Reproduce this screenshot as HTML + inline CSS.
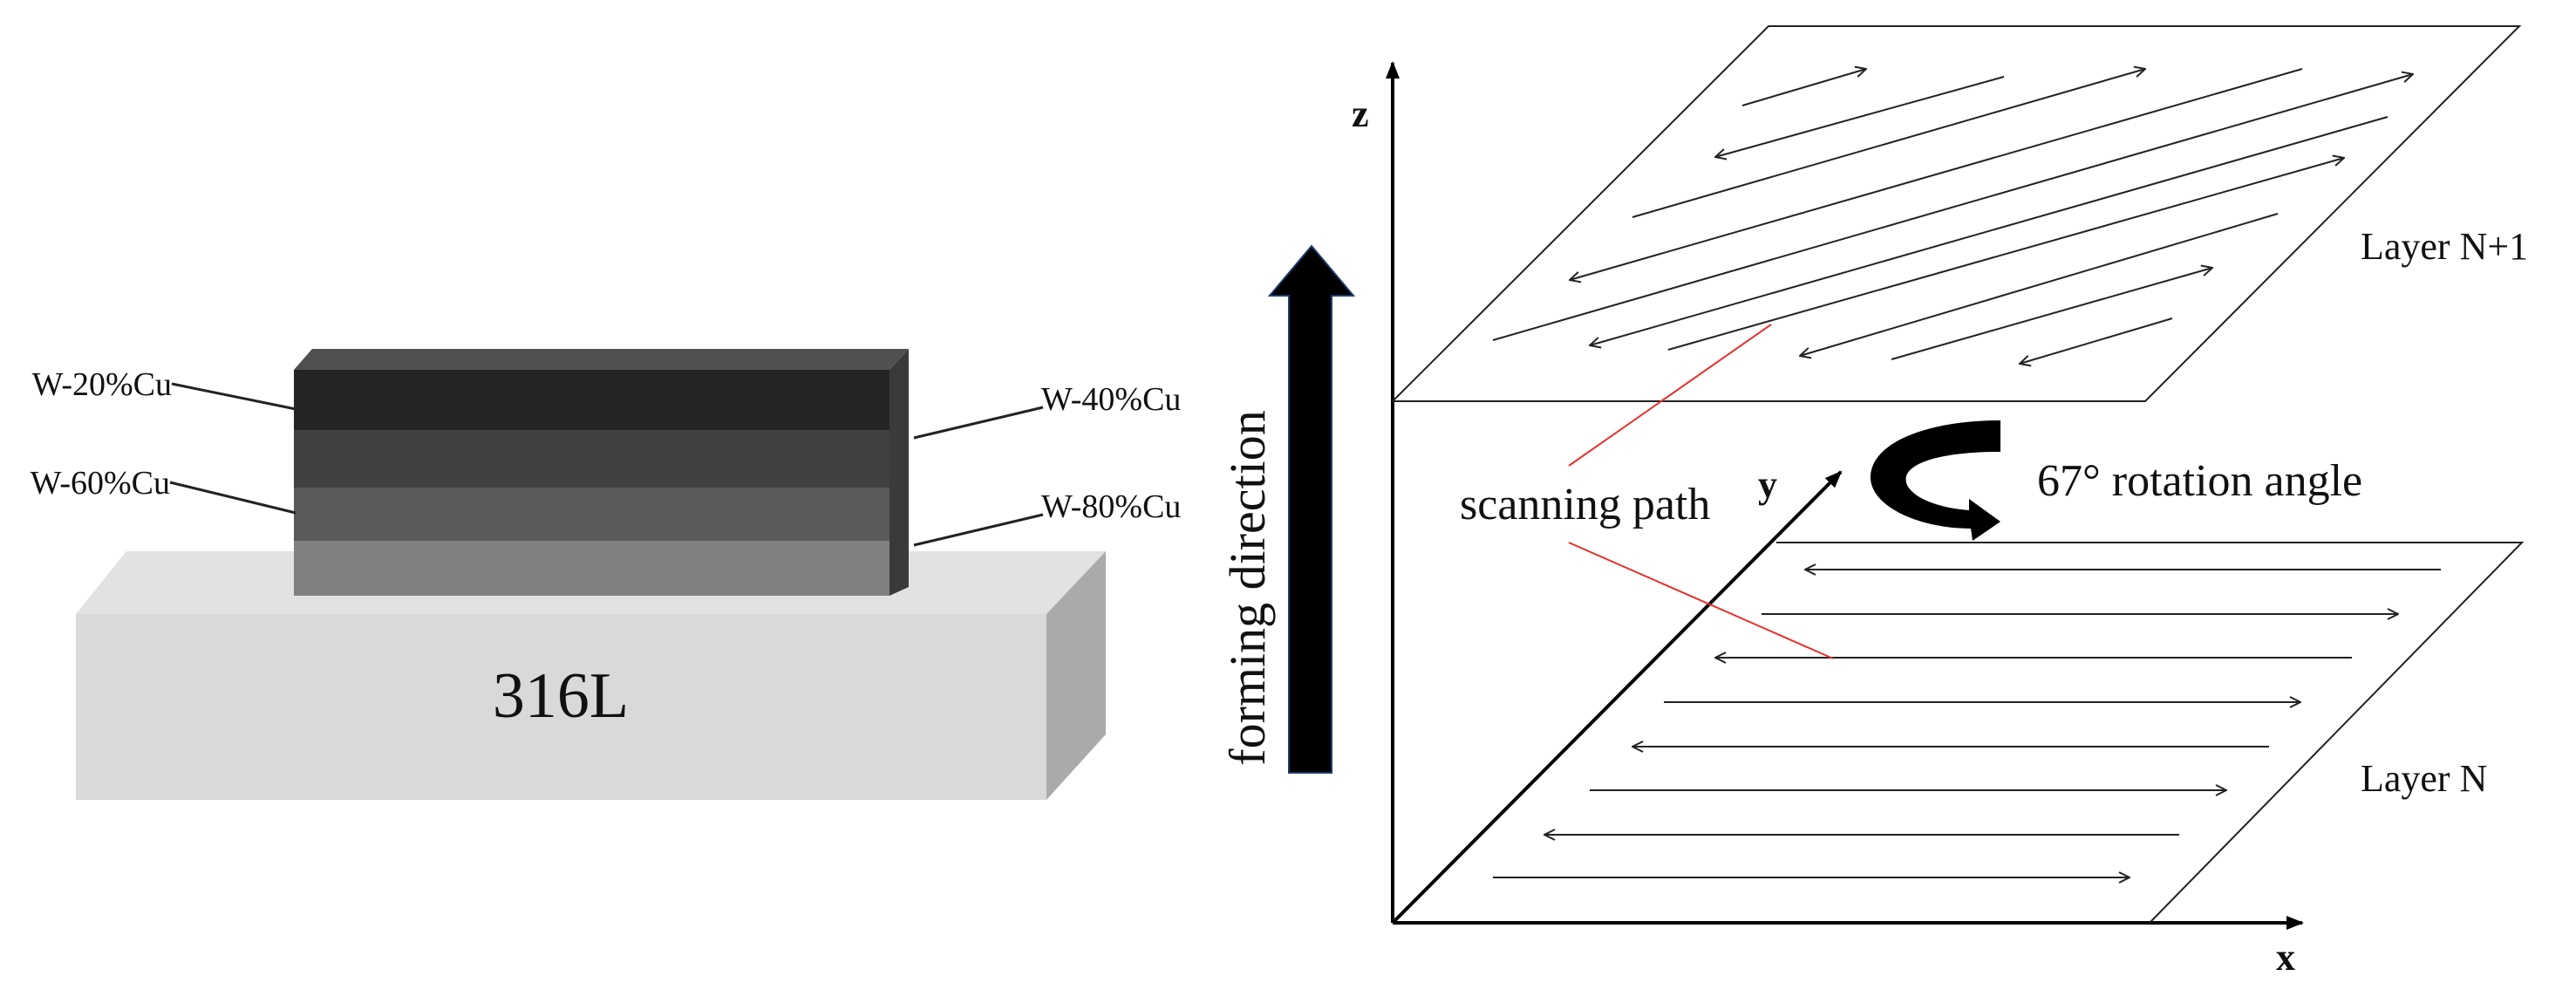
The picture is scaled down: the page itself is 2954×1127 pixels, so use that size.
<!DOCTYPE html>
<html><head><meta charset="utf-8"><style>html,body{margin:0;padding:0;background:#fff}svg{display:block}</style></head>
<body>
<svg width="2954" height="1127" viewBox="0 0 2954 1127" xmlns="http://www.w3.org/2000/svg" font-family="Liberation Serif, serif">
<defs>
<marker id="ah" markerWidth="14" markerHeight="14" refX="13" refY="7" orient="auto" markerUnits="userSpaceOnUse">
<path d="M1,1 L13,7 L1,13" fill="none" stroke="#222" stroke-width="2"/></marker>
<marker id="bh" markerWidth="20" markerHeight="16" refX="18" refY="8" orient="auto" markerUnits="userSpaceOnUse">
<path d="M0,0 L20,8 L0,16 Z" fill="#000"/></marker>
</defs>
<!-- base block -->
<polygon points="87,704 145,632 1268,632 1200,704" fill="#e2e2e2"/>
<polygon points="1200,704 1268,632 1268,842 1200,917" fill="#aaaaaa"/>
<rect x="87" y="704" width="1113" height="213" fill="#d9d9d9"/>
<text x="643" y="822" font-size="74" text-anchor="middle" fill="#111">316L</text>
<!-- stack -->
<polygon points="337,424 358,400 1042,400 1020,424" fill="#505050"/>
<polygon points="1020,424 1042,400 1042,673 1020,683" fill="#3a3a3a"/>
<rect x="337" y="424" width="683" height="69" fill="#252525"/>
<rect x="337" y="493" width="683" height="66" fill="#404040"/>
<rect x="337" y="559" width="683" height="61" fill="#5a5a5a"/>
<rect x="337" y="620" width="683" height="63" fill="#808080"/>
<g stroke="#222" stroke-width="3">
<line x1="197" y1="440" x2="339" y2="469"/><line x1="195" y1="553" x2="339" y2="588"/>
<line x1="1048" y1="502" x2="1196" y2="467"/><line x1="1048" y1="625" x2="1196" y2="590"/>
</g>
<g font-size="38" fill="#111">
<text x="197" y="453" text-anchor="end">W-20%Cu</text>
<text x="195" y="566" text-anchor="end">W-60%Cu</text>
<text x="1194" y="470">W-40%Cu</text>
<text x="1194" y="593">W-80%Cu</text>
</g>
<!-- axes -->
<g stroke="#000" stroke-width="4" fill="none">
<line x1="1597" y1="1058" x2="1597" y2="72" marker-end="url(#bh)"/>
<line x1="1597" y1="1058" x2="2640" y2="1058" marker-end="url(#bh)"/>
<line x1="1597" y1="1058" x2="2111" y2="541" marker-end="url(#bh)"/>
</g>
<g font-size="44" font-weight="bold" fill="#111">
<text x="1550" y="145">z</text><text x="2610" y="1112">x</text><text x="2016" y="570">y</text>
</g>
<!-- planes -->
<g stroke="#222" stroke-width="2" fill="none">
<polyline points="1597,460 2028,30 2889,30 2460,460 1597,460"/>
<polyline points="2037,622 2892,622 2465,1058"/>
</g>
<!-- lower arrows -->
<g stroke="#222" stroke-width="2" marker-end="url(#ah)">
<line x1="2799" y1="653" x2="2070" y2="653"/>
<line x1="2020" y1="704" x2="2750" y2="704"/>
<line x1="2697" y1="754" x2="1967" y2="754"/>
<line x1="1908" y1="805" x2="2638" y2="805"/>
<line x1="2602" y1="856" x2="1872" y2="856"/>
<line x1="1823" y1="906" x2="2553" y2="906"/>
<line x1="2499" y1="957" x2="1771" y2="957"/>
<line x1="1712" y1="1006" x2="2442" y2="1006"/>
<!-- upper -->
<line x1="1998" y1="121" x2="2140" y2="79"/>
<line x1="2298" y1="88" x2="1967" y2="180"/>
<line x1="1872" y1="249" x2="2460" y2="79"/>
<line x1="2640" y1="79" x2="1800" y2="321"/>
<line x1="1712" y1="390" x2="2767" y2="85"/>
<line x1="2738" y1="134" x2="1823" y2="396"/>
<line x1="1913" y1="401" x2="2688" y2="181"/>
<line x1="2612" y1="245" x2="2064" y2="408"/>
<line x1="2169" y1="412" x2="2537" y2="307"/>
<line x1="2491" y1="365" x2="2316" y2="417"/>
</g>
<!-- red lines -->
<g stroke="#e8302c" stroke-width="2">
<line x1="1799" y1="534" x2="2031" y2="372"/>
<line x1="1799" y1="622" x2="2102" y2="755"/>
</g>
<g fill="#111">
<text x="1674" y="595" font-size="52">scanning path</text>
<text x="2336" y="568" font-size="52">67°  rotation angle</text>
<text x="2707" y="297" font-size="44">Layer N+1</text>
<text x="2707" y="907" font-size="44">Layer N</text>
</g>
<!-- rotation arrow -->
<path d="M2294,482 L2294,518 C2215,518 2175,535 2188,558 C2198,574 2230,583 2258,585 L2258,572 L2294,598 L2262,620 L2260,606 C2200,606 2143,580 2145,545 C2148,505 2215,482 2294,482 Z" fill="#000"/>
<!-- forming direction arrow -->
<polygon points="1478,886 1478,339 1456,339 1504,282 1552,339 1527,339 1527,886" fill="#000" stroke="#1f3a6e" stroke-width="2"/>
<text transform="translate(1450,674) rotate(-90)" font-size="58" text-anchor="middle" fill="#111">forming direction</text>
</svg>
</body></html>
